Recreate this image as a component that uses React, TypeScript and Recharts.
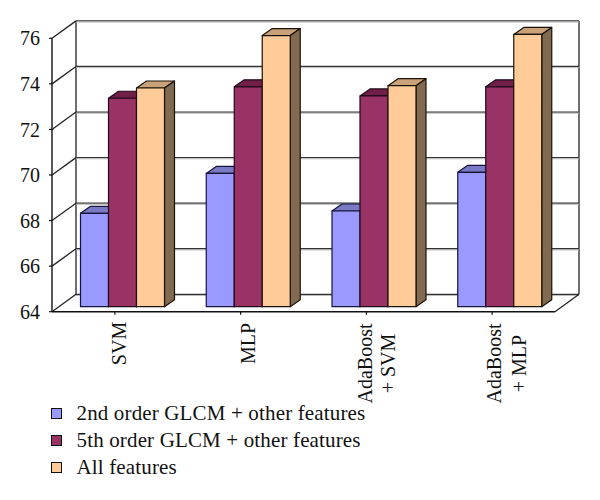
import React from "react";
import {
  BarChart, Bar, XAxis, YAxis, CartesianGrid, Legend,
} from "recharts";

const categories = ["SVM", "MLP", "AdaBoost + SVM", "AdaBoost + MLP"];
const glcm2nd = [68.1, 69.85, 68.2, 69.9];
const glcm5th = [73.15, 73.65, 73.25, 73.65];
const allFeatures = [73.6, 75.9, 73.7, 75.95];
const yTicks = [64, 66, 68, 70, 72, 74, 76];

const FONT = "'Liberation Serif', serif";

// how far the back wall sits from the front plane
const WALL_DX = 24;
const WALL_DY = 17.4;
// bars stand a little inside the floor
const BAR_DX = 7;
const BAR_DY = 5;
const BAR_DEPTH_X = 10;
const BAR_DEPTH_Y = 7;
const TOP = 38.3;
const BOTTOM = 311.7;
const STEP = (BOTTOM - TOP) / (yTicks.length - 1);
// rotated labels are not quite centred on their band in the original
const LABEL_SHIFT = [11, 14.4, 5.3, 8.9];
const LINE_GAP = [0, 0, 23, 25];

const data = categories.map((name, i) => ({
  name,
  glcm2nd: glcm2nd[i],
  glcm5th: glcm5th[i],
  allFeatures: allFeatures[i],
}));

const series = [
  { key: "glcm2nd", label: "2nd order GLCM + other features", fill: "#9999ff", top: "#7a7ac4", side: "#66668f", stroke: "#14143c" },
  { key: "glcm5th", label: "5th order GLCM + other features", fill: "#993366", top: "#702048", side: "#5c1f3d", stroke: "#20081a" },
  { key: "allFeatures", label: "All features", fill: "#ffcc99", top: "#c9a27a", side: "#806b50", stroke: "#1a1208" },
];

function bar3d(s: (typeof series)[number]) {
  return function Shape3D(props: any) {
    const { x, y, width, height } = props;
    const fx = x + BAR_DX;
    const fy = y - BAR_DY;
    const dx = BAR_DEPTH_X;
    const dy = BAR_DEPTH_Y;
    const common = { stroke: s.stroke, strokeWidth: 1.2, strokeLinejoin: "round" as const };
    return (
      <g>
        <polygon
          points={`${fx},${fy} ${fx + dx},${fy - dy} ${fx + width + dx},${fy - dy} ${fx + width},${fy}`}
          fill={s.top} {...common}
        />
        <polygon
          points={`${fx + width},${fy} ${fx + width + dx},${fy - dy} ${fx + width + dx},${fy + height - dy} ${fx + width},${fy + height}`}
          fill={s.side} {...common}
        />
        <rect x={fx} y={fy} width={width} height={height} fill={s.fill} {...common} />
      </g>
    );
  };
}

function WallLine(props: any) {
  const { x1, x2, y1 } = props;
  const bx = x1 + WALL_DX;
  const by = y1 - WALL_DY;
  const rx = x2 + WALL_DX;
  const isBottom = Math.abs(y1 - BOTTOM) < 1;
  const notTop = y1 > TOP + 1;
  return (
    <g stroke="#222" strokeWidth={1.3} fill="none">
      <line x1={x1} y1={y1} x2={bx} y2={by} />
      <line x1={bx} y1={by} x2={rx} y2={by} stroke="#333" />
      <line x1={bx} y1={by + 1.2} x2={rx} y2={by + 1.2} stroke="#bbb" strokeWidth={1} />
      {notTop && <line x1={bx} y1={by} x2={bx} y2={by - STEP} />}
      {notTop && <line x1={rx} y1={by} x2={rx} y2={by - STEP} />}
      {isBottom && <line x1={x2} y1={y1} x2={rx} y2={by} />}
    </g>
  );
}

function CategoryTick(props: any) {
  const { x, payload, index } = props;
  const parts = String(payload.value).split(" + ");
  const lines = parts.length > 1 ? [parts[0], `+ ${parts[1]}`] : parts;
  const midY = lines.length > 1 ? 363.5 : 343.5;
  const baseX = x + LABEL_SHIFT[index];
  return (
    <g>
      {lines.map((line, i) => (
        <text
          key={line}
          transform={`translate(${baseX + i * LINE_GAP[index]},${midY}) rotate(-90)`}
          textAnchor="middle"
          fontFamily={FONT}
          fontSize={20}
          fill="#111"
        >
          {line}
        </text>
      ))}
    </g>
  );
}

function LegendList() {
  return (
    <div style={{ fontFamily: FONT, fontSize: 21, letterSpacing: 0.15, color: "#111" }}>
      {series.map((s) => (
        <div key={s.key} style={{ display: "flex", alignItems: "center", height: 26.7 }}>
          <span
            style={{
              width: 9, height: 9, background: s.fill, border: "1.2px solid #111",
              marginRight: 14.5, display: "inline-block", flexShrink: 0,
            }}
          />
          <span>{s.label}</span>
        </div>
      ))}
    </div>
  );
}

export default function App() {
  return (
    <div style={{ position: "absolute", left: 0, top: 0, width: 600, height: 500, background: "#fff" }}>
      <BarChart
        width={600}
        height={500}
        data={data}
        barCategoryGap={21.5}
        barGap={0}
        margin={{ top: TOP, right: 45, bottom: 500 - BOTTOM - 100, left: 0 }}
      >
        <CartesianGrid vertical={false} horizontal={(p: any) => <WallLine key={p.key} {...p} />} />
        <XAxis
          dataKey="name"
          height={100}
          interval={0}
          tick={<CategoryTick />}
          tickSize={3}
          axisLine={{ stroke: "#111", strokeWidth: 1.4 }}
          tickLine={{ stroke: "#111", strokeWidth: 1.2 }}
        />
        <YAxis
          width={52}
          domain={[64, 76]}
          ticks={yTicks}
          interval={0}
          tickSize={3}
          tickMargin={9}
          tick={{ fontFamily: FONT, fontSize: 20, fill: "#111" }}
          axisLine={{ stroke: "#111", strokeWidth: 1.4 }}
          tickLine={{ stroke: "#111", strokeWidth: 1.2 }}
        />
        <Legend
          layout="vertical"
          align="center"
          verticalAlign="middle"
          content={<LegendList />}
          wrapperStyle={{ left: 51, top: 400.6, width: 400 }}
        />
        {series.map((s) => (
          <Bar key={s.key} dataKey={s.key} fill={s.fill} isAnimationActive={false} shape={bar3d(s)} />
        ))}
      </BarChart>
    </div>
  );
}
